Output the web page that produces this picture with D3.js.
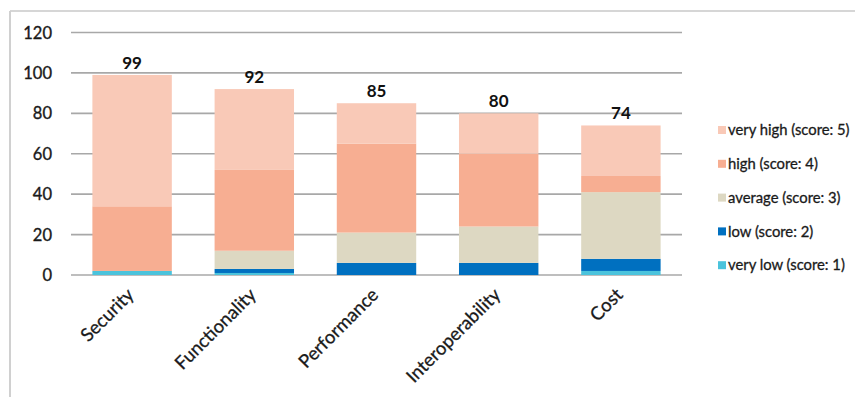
<!DOCTYPE html>
<html><head><meta charset="utf-8">
<script src="https://cdn.jsdelivr.net/npm/d3@7"></script>
<style>html,body{margin:0;padding:0;background:#fff;}svg{display:block;}</style>
</head><body><svg id="c" width="855" height="397"></svg>
<script>
const categories = ["Security","Functionality","Performance","Interoperability","Cost"];
const seriesNames = ["very low (score: 1)","low (score: 2)","average (score: 3)","high (score: 4)","very high (score: 5)"];
const veryLow  = [2, 1, 0, 0, 2];
const low      = [0, 2, 6, 6, 6];
const average  = [0, 9, 15, 18, 33];
const high     = [32, 40, 44, 36, 8];
const veryHigh = [65, 40, 20, 20, 25];
const totals   = [99, 92, 85, 80, 74];
const yTicks   = [0, 20, 40, 60, 80, 100, 120];
const colors   = ["#4bc3dc","#0070c0","#ddd8c2","#f7ae92","#f9c9b7"];

const seriesValues = [veryLow, low, average, high, veryHigh];
const rows = categories.map((c,i)=>{const o={cat:c}; seriesNames.forEach((s,k)=>o[s]=seriesValues[k][i]); return o;});
const stacked = d3.stack().keys(seriesNames)(rows);

const svg = d3.select("#c");
const font = "Lato, 'Open Sans', sans-serif";

// frame
svg.append("line").attr("x1",10).attr("x2",855).attr("y1",11).attr("y2",11).attr("stroke","#d6d6d6").attr("stroke-width",2);
svg.append("line").attr("x1",10).attr("x2",10).attr("y1",11).attr("y2",397).attr("stroke","#d0d0d0").attr("stroke-width",2);

const x = d3.scaleBand().domain(categories).range([71, 682]).paddingInner(0.35).paddingOuter(0.175);
const y = d3.scaleLinear().domain([0,120]).range([275, 32.5]);

// gridlines
svg.append("g").selectAll("line").data(yTicks).join("line")
  .attr("x1",71).attr("x2",682).attr("y1",d=>y(d)).attr("y2",d=>y(d))
  .attr("stroke","#a8a8a8").attr("stroke-width",1.6);

// y axis labels
const yAxis = d3.axisLeft(y).tickValues(yTicks).tickSize(0).tickPadding(0);
const ga = svg.append("g").attr("transform","translate(52,0)").call(yAxis);
ga.select(".domain").remove();
ga.selectAll("text").attr("font-family",font).attr("font-size",16.5).attr("fill","#1a1a1a")
  .attr("stroke","#1a1a1a").attr("stroke-width",0.35).attr("dy","0.34em");

// bars
svg.append("g").selectAll("g").data(stacked).join("g")
  .attr("fill",(d,i)=>colors[i])
  .selectAll("rect").data(d=>d).join("rect")
  .attr("x",d=>x(d.data.cat)).attr("width",x.bandwidth())
  .attr("y",d=>y(d[1])).attr("height",d=>Math.max(0,y(d[0])-y(d[1])));

// totals
svg.append("g").selectAll("text").data(categories).join("text")
  .attr("x",d=>x(d)+x.bandwidth()/2).attr("y",(d,i)=>y(totals[i])-6)
  .attr("text-anchor","middle").attr("font-family",font).attr("font-weight","bold")
  .attr("font-size",17).attr("fill","#111").text((d,i)=>totals[i]);

// x labels
const xAxis = d3.axisBottom(x).tickSize(0).tickPadding(0);
const gx = svg.append("g").attr("transform","translate(0,275)").call(xAxis);
gx.select(".domain").remove();
gx.selectAll("text").attr("font-family",font).attr("font-size",18.5).attr("fill","#1a1a1a")
  .attr("stroke","#1a1a1a").attr("stroke-width",0.3)
  .attr("text-anchor","end").attr("dy",null).attr("y",0)
  .attr("transform","translate(3,21) rotate(-45)");

// legend
const leg = svg.append("g");
const legOrder = seriesNames.map((s,i)=>i).reverse();
legOrder.forEach((k,j)=>{
  const yy = 130 + j*33.8;
  leg.append("rect").attr("x",718).attr("y",yy-4).attr("width",8).attr("height",8).attr("fill",colors[k]);
  leg.append("text").attr("x",728).attr("y",yy).attr("dy","0.35em")
    .attr("font-family",font).attr("font-size",14.8).attr("fill","#1a1a1a")
    .attr("stroke","#1a1a1a").attr("stroke-width",0.3).text(seriesNames[k]);
});
</script></body></html>
